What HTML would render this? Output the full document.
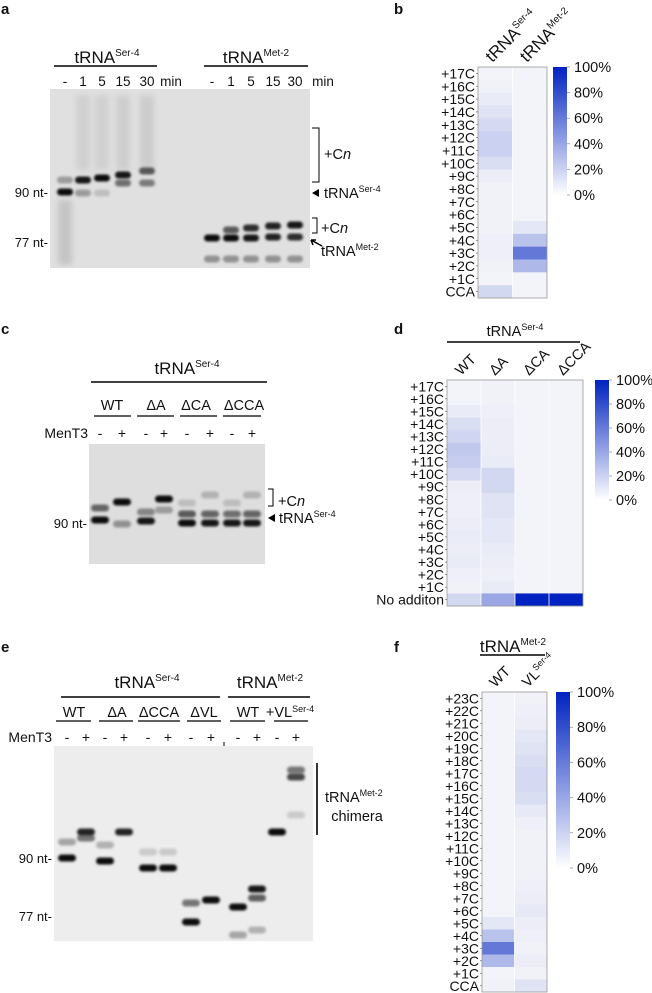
<!DOCTYPE html>
<html><head><meta charset="utf-8"><style>
html,body{margin:0;padding:0;background:#fff;}
svg{display:block;font-family:"Liberation Sans",Arial,sans-serif;}
</style></head><body>
<svg id="fig" width="652" height="993" viewBox="0 0 652 993" xmlns="http://www.w3.org/2000/svg">
<defs>
<filter id="blur" x="-50%" y="-200%" width="200%" height="500%"><feGaussianBlur stdDeviation="1.4"/></filter>
<filter id="blur2" x="-50%" y="-50%" width="200%" height="200%"><feGaussianBlur stdDeviation="3"/></filter>
<linearGradient id="cbar" x1="0" y1="1" x2="0" y2="0"><stop offset="0" stop-color="#ffffff"/><stop offset="1" stop-color="#0022c0"/></linearGradient>
</defs>
<g id="root" font-size="13" fill="#111">
<text x="1" y="14" font-weight="bold" font-size="15">a</text>
<text x="394" y="14" font-weight="bold" font-size="15">b</text>
<text x="1" y="334" font-weight="bold" font-size="15">c</text>
<text x="394" y="334" font-weight="bold" font-size="15">d</text>
<text x="1" y="652" font-weight="bold" font-size="15">e</text>
<text x="394" y="652" font-weight="bold" font-size="15">f</text>

<g>
<text x="107" y="63" text-anchor="middle" font-size="17">tRNA<tspan font-size="10" dy="-7">Ser-4</tspan></text>
<line x1="54" y1="66" x2="157" y2="66" stroke="#000" stroke-width="1.4"/>
<text x="256" y="63" text-anchor="middle" font-size="17">tRNA<tspan font-size="10" dy="-7">Met-2</tspan></text>
<line x1="204" y1="66" x2="308" y2="66" stroke="#000" stroke-width="1.4"/>
<g font-size="13.5" text-anchor="middle">
<text x="65" y="86">-</text><text x="83" y="86">1</text><text x="102" y="86">5</text><text x="123" y="86">15</text><text x="147" y="86">30</text><text x="171" y="86">min</text>
<text x="212" y="86">-</text><text x="231" y="86">1</text><text x="251" y="86">5</text><text x="273" y="86">15</text><text x="295" y="86">30</text><text x="323" y="86">min</text>
</g>
</g>
<rect x="50" y="89" width="260" height="179" fill="#e0e0e0"/>
<g id="bandsA"></g>
<g font-size="13">
<text x="48" y="197" text-anchor="end">90 nt-</text>
<text x="48" y="247" text-anchor="end">77 nt-</text>
<path d="M312 128 H319 V182 H312" fill="none" stroke="#000" stroke-width="1"/>
<text x="324" y="159" font-size="14.5">+C<tspan font-style="italic">n</tspan></text>
<path d="M312 193 L319 189 L319 197 Z" fill="#000"/>
<text x="324" y="198" font-size="14.5">tRNA<tspan font-size="9" dy="-6">Ser-4</tspan></text>
<path d="M312 218 H317 V233 H312" fill="none" stroke="#000" stroke-width="1"/>
<text x="321" y="233" font-size="14.5">+C<tspan font-style="italic">n</tspan></text>
<path d="M322 246 L311 240 M311 240 L316 240 M311 240 L313 245" stroke="#000" stroke-width="1.5" fill="none"/>
<text x="321" y="256" font-size="14.5">tRNA<tspan font-size="9" dy="-6">Met-2</tspan></text>
</g>

<g>
<text x="187" y="374" text-anchor="middle" font-size="17">tRNA<tspan font-size="10" dy="-7">Ser-4</tspan></text>
<line x1="91" y1="382" x2="267" y2="382" stroke="#000" stroke-width="1.4"/>
<g text-anchor="middle" font-size="14.5">
<text x="112" y="410">WT</text><text x="156" y="410">ΔA</text><text x="196" y="410">ΔCA</text><text x="244" y="410">ΔCCA</text>
</g>
<g stroke="#000" stroke-width="1.2">
<line x1="94" y1="416" x2="131" y2="416"/><line x1="137" y1="416" x2="174" y2="416"/><line x1="180" y1="416" x2="217" y2="416"/><line x1="223" y1="416" x2="261" y2="416"/>
</g>
<text x="88" y="438" text-anchor="end" font-size="14">MenT3</text>
<g text-anchor="middle" font-size="14">
<text x="100" y="438">-</text><text x="122" y="438">+</text><text x="146" y="438">-</text><text x="164" y="438">+</text><text x="187" y="438">-</text><text x="210" y="438">+</text><text x="232" y="438">-</text><text x="252" y="438">+</text>
</g>
</g>
<rect x="89" y="444" width="176" height="120" fill="#dedede"/>
<g id="bandsC"></g>
<g font-size="14.5">
<text x="87" y="528" text-anchor="end" font-size="13">90 nt-</text>
<path d="M268 489 H273 V506 H268" fill="none" stroke="#000" stroke-width="1"/>
<text x="278" y="506">+C<tspan font-style="italic">n</tspan></text>
<path d="M268 518 L275 514 L275 522 Z" fill="#000"/>
<text x="279" y="523">tRNA<tspan font-size="9" dy="-6">Ser-4</tspan></text>
</g>

<g>
<text x="147" y="688" text-anchor="middle" font-size="17">tRNA<tspan font-size="10" dy="-7">Ser-4</tspan></text>
<line x1="61" y1="697" x2="220" y2="697" stroke="#000" stroke-width="1.4"/>
<text x="270" y="688" text-anchor="middle" font-size="17">tRNA<tspan font-size="10" dy="-7">Met-2</tspan></text>
<line x1="228" y1="697" x2="310" y2="697" stroke="#000" stroke-width="1.4"/>
<g text-anchor="middle" font-size="14.5">
<text x="74" y="717">WT</text><text x="117" y="717">ΔA</text><text x="159" y="717">ΔCCA</text><text x="204" y="717">ΔVL</text><text x="248" y="717">WT</text><text x="290" y="717">+VL<tspan font-size="9" dy="-5">Ser-4</tspan></text>
</g>
<g stroke="#000" stroke-width="1.2">
<line x1="56" y1="721" x2="91" y2="721"/><line x1="99" y1="721" x2="133" y2="721"/><line x1="138" y1="721" x2="180" y2="721"/><line x1="187" y1="721" x2="221" y2="721"/><line x1="230" y1="721" x2="265" y2="721"/><line x1="274" y1="721" x2="308" y2="721"/>
</g>
<text x="52" y="742" text-anchor="end" font-size="14">MenT3</text>
<g text-anchor="middle" font-size="14">
<text x="67" y="742">-</text><text x="86" y="742">+</text><text x="105" y="742">-</text><text x="124" y="742">+</text><text x="148" y="742">-</text><text x="168" y="742">+</text><text x="191" y="742">-</text><text x="211" y="742">+</text><text x="238" y="742">-</text><text x="257" y="742">+</text><text x="277" y="742">-</text><text x="296" y="742">+</text>
</g>
<line x1="224" y1="742" x2="224" y2="752" stroke="#000" stroke-width="1"/>
</g>
<rect x="54" y="746" width="259" height="195" fill="#ededed"/>
<g id="bandsE"></g>
<g font-size="13">
<text x="52" y="863" text-anchor="end">90 nt-</text>
<text x="52" y="921" text-anchor="end">77 nt-</text>
<line x1="317" y1="763" x2="317" y2="835" stroke="#000" stroke-width="1.6"/>
<text x="325" y="802" font-size="14.5">tRNA<tspan font-size="9" dy="-6">Met-2</tspan></text>
<text x="357" y="821" font-size="14.5" text-anchor="middle">chimera</text>
</g>

<g id="heatmaps"></g>
</g>
</svg>
<script>
var rowsB = ["+17C","+16C","+15C","+14C","+13C","+12C","+11C","+10C","+9C","+8C","+7C","+6C","+5C","+4C","+3C","+2C","+1C","CCA"];
var colsB = ["Ser-4","Met-2"];
var valsBSer = [0.02,0.03,0.06,0.10,0.14,0.18,0.18,0.12,0.05,0.03,0.03,0.03,0.03,0.04,0.04,0.03,0.02,0.15];
var valsBMet = [0.02,0.02,0.02,0.02,0.02,0.02,0.02,0.02,0.02,0.02,0.02,0.02,0.08,0.25,0.60,0.30,0.02,0.02];

var rowsD = ["+17C","+16C","+15C","+14C","+13C","+12C","+11C","+10C","+9C","+8C","+7C","+6C","+5C","+4C","+3C","+2C","+1C","No additon"];
var colsD = ["WT","ΔA","ΔCA","ΔCCA"];
var valsDWT = [0.02,0.02,0.06,0.12,0.16,0.22,0.20,0.14,0.05,0.04,0.04,0.05,0.06,0.05,0.06,0.04,0.03,0.15];
var valsDA = [0.03,0.03,0.04,0.05,0.05,0.05,0.06,0.15,0.15,0.10,0.10,0.08,0.08,0.06,0.05,0.04,0.06,0.38];
var valsDCA = [0.02,0.02,0.02,0.02,0.02,0.02,0.02,0.02,0.02,0.02,0.02,0.02,0.02,0.02,0.02,0.02,0.02,1.0];
var valsDCCA = [0.02,0.02,0.02,0.02,0.02,0.02,0.02,0.02,0.02,0.02,0.02,0.02,0.02,0.02,0.02,0.02,0.02,1.0];

var rowsF = ["+23C","+22C","+21C","+20C","+19C","+18C","+17C","+16C","+15C","+14C","+13C","+12C","+11C","+10C","+9C","+8C","+7C","+6C","+5C","+4C","+3C","+2C","+1C","CCA"];
var colsF = ["WT","VL"];
var valsFWT = [0.02,0.02,0.02,0.02,0.02,0.02,0.02,0.02,0.02,0.02,0.02,0.02,0.02,0.02,0.02,0.02,0.02,0.02,0.08,0.25,0.60,0.30,0.02,0.03];
var valsFVL = [0.03,0.04,0.05,0.08,0.10,0.12,0.14,0.14,0.12,0.07,0.04,0.03,0.03,0.03,0.03,0.04,0.05,0.07,0.05,0.04,0.03,0.05,0.03,0.10];

var colorTicks = ["100%","80%","60%","40%","20%","0%"];

var bandsA = [[65,192,0.95],[65,180,0.3],[83,180,0.9],[83,193,0.3],[102,178,0.95],[102,193,0.15],[123,175,0.9],[123,183,0.5],[147,171,0.6],[147,183,0.45],
 [212,238,0.95],[231,238,0.95],[231,230,0.6],[251,238,0.9],[251,228,0.8],[273,237,0.85],[273,226,0.85],[295,237,0.8],[295,225,0.9],
 [212,259,0.35],[231,259,0.35],[251,259,0.35],[273,259,0.35],[295,259,0.35]];
var smearA = [[83,0.18],[102,0.18],[123,0.2],[147,0.22]];
var bandsC = [[100,520,0.95],[100,508,0.55],[122,502,0.95],[122,524,0.35],[146,521,0.9],[146,512,0.4],[164,499,0.95],[164,510,0.3],
 [187,523,0.95],[187,514,0.6],[187,503,0.15],[210,523,0.9],[210,514,0.55],[210,495,0.2],[232,523,0.9],[232,514,0.5],[232,503,0.15],[252,523,0.9],[252,514,0.55],[252,495,0.2]];
var bandsE = [[67,858,0.95],[67,842,0.3],[86,832,0.85],[86,838,0.5],[105,861,0.95],[105,845,0.25],[124,832,0.85],[148,868,0.95],[148,852,0.15],[168,868,0.95],[168,852,0.15],
 [191,922,0.95],[191,903,0.5],[211,900,0.95],[238,907,0.95],[238,935,0.3],[257,889,0.9],[257,898,0.6],[257,930,0.25],[277,832,0.95],[296,777,0.7],[296,770,0.5],[296,815,0.15]];

var NS = "http://www.w3.org/2000/svg";
function el(tag, attrs, parent){var e=document.createElementNS(NS,tag);for(var k in attrs)e.setAttribute(k,attrs[k]);parent.appendChild(e);return e;}
function col(v){var r=Math.round(248+(0-248)*v),g=Math.round(248+(34-248)*v),b=Math.round(250+(192-250)*v);return "rgb("+r+","+g+","+b+")";}

function drawBands(gid, bands, w){
  var g=document.getElementById(gid);
  bands.forEach(function(b){
    var r=el("rect",{x:b[0]-w/2,y:b[1]-3.5,width:w,height:7,rx:3.5,fill:"#000","fill-opacity":b[2],filter:"url(#blur)"},g);
    
    
  });
}
drawBands("bandsA", bandsA, 16);
(function(){var g=document.getElementById("bandsA");
  smearA.forEach(function(s){var r=el("rect",{x:s[0]-7,y:95,width:14,height:75,fill:"#000","fill-opacity":s[1]*0.4,filter:"url(#blur2)"},g);
    
    });
  var r2=el("rect",{x:58,y:200,width:14,height:65,fill:"#000","fill-opacity":0.12,filter:"url(#blur2)"},g);
  
  
})();
drawBands("bandsC", bandsC, 18);
drawBands("bandsE", bandsE, 18);

function heatmap(name, x0, y0, w, h, rows, cols, series, cbx, cbh, colLabelFn){
  var g=el("g",{},document.getElementById("heatmaps"));
  
  
  var rh=h/rows.length, cw=w/cols.length;
  series.forEach(function(vals,ci){
    vals.forEach(function(v,ri){
      var c=el("rect",{x:x0+ci*cw,y:y0+ri*rh,width:cw,height:rh+0.3,fill:col(v)},g);
      
      
    });
    if(ci>0) el("line",{x1:x0+ci*cw,y1:y0,x2:x0+ci*cw,y2:y0+h,stroke:"#fff","stroke-width":0.8},g);
  });
  el("rect",{x:x0,y:y0,width:w,height:h,fill:"none",stroke:"#999","stroke-width":0.8},g);
  rows.forEach(function(r,ri){
    var t=el("text",{x:x0-3,y:y0+ri*rh+rh/2+5,"text-anchor":"end","font-size":"14"},g);
    t.textContent=r;
    
    
    el("line",{x1:x0-2,y1:y0+ri*rh+rh/2,x2:x0,y2:y0+ri*rh+rh/2,stroke:"#555","stroke-width":0.6},g);
  });
  cols.forEach(function(c,ci){
    var cx=x0+ci*cw+cw/2-3, cy=y0-4;
    var t=el("text",{x:0,y:0,transform:"translate("+cx+","+cy+") rotate(-45)","font-size":colLabelFn?"17":"14.5"},g);
    if(colLabelFn){t.textContent="tRNA";var ts=el("tspan",{"font-size":"10",dy:"-7"},t);ts.textContent=c;}
    else{ if(c==="VL"){t.textContent="VL";var ts2=el("tspan",{"font-size":"9",dy:"-6"},t);ts2.textContent="Ser-4";} else t.textContent=c; }
    
    
  });
  var cb=el("rect",{x:cbx,y:y0,width:14,height:cbh,fill:"url(#cbar)"},g);
  
  
  colorTicks.forEach(function(lbl,i){
    var yy=y0+i*cbh/(colorTicks.length-1);
    el("line",{x1:cbx+14,y1:yy,x2:cbx+17,y2:yy,stroke:"#777","stroke-width":0.6},g);
    var t=el("text",{x:cbx+21,y:yy+5,"font-size":"14.5"},g);
    t.textContent=lbl;
    
    
  });
}
heatmap("heatmap-b",478,67,69,231,rowsB,colsB,[valsBSer,valsBMet],553,128,true);
heatmap("heatmap-d",447,380,136,226,rowsD,colsD,[valsDWT,valsDA,valsDCA,valsDCCA],595,120,false);
heatmap("heatmap-f",482,692,65,300,rowsF,colsF,[valsFWT,valsFVL],556,176,false);

(function(){var g=document.getElementById("heatmaps");
  var t=el("text",{x:515,y:336,"text-anchor":"middle","font-size":"14.5"},g);
  t.textContent="tRNA";var s=el("tspan",{"font-size":"9",dy:"-6"},t);s.textContent="Ser-4";
  
  
  el("line",{x1:447,y1:342,x2:580,y2:342,stroke:"#000","stroke-width":1.4},g);
  var t2=el("text",{x:513,y:652,"text-anchor":"middle","font-size":"17"},g);
  t2.textContent="tRNA";var s2=el("tspan",{"font-size":"10",dy:"-7"},t2);s2.textContent="Met-2";
  
  
  el("line",{x1:480,y1:655,x2:545,y2:655,stroke:"#000","stroke-width":1.4},g);
})();
</script>
</body></html>
